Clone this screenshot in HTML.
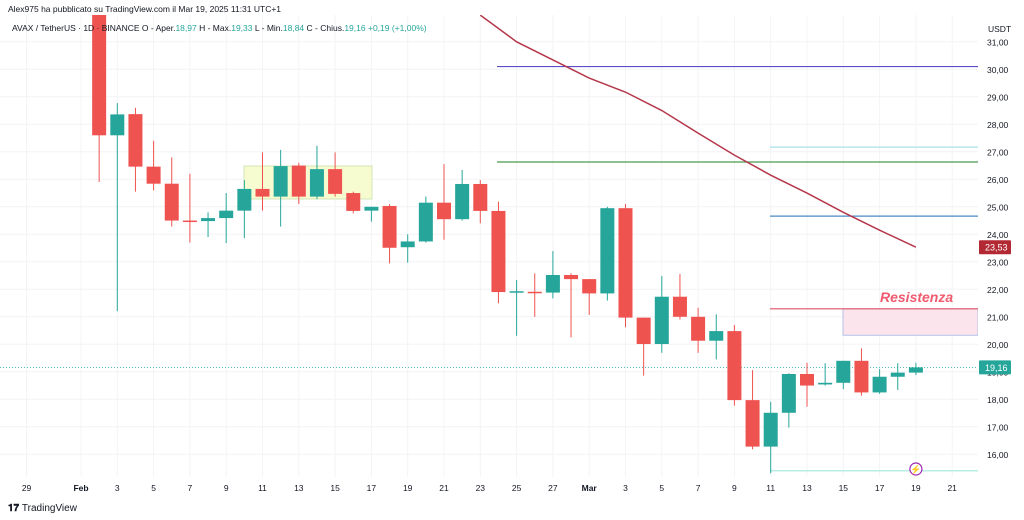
<!DOCTYPE html>
<html><head><meta charset="utf-8">
<style>
body{margin:0;background:#fff;width:1024px;height:520px;overflow:hidden;font-family:"Liberation Sans",sans-serif}
svg{position:absolute;left:0;top:0}
</style></head>
<body>
<svg id="c" width="1024" height="520" xmlns="http://www.w3.org/2000/svg">
<defs><clipPath id="pane"><rect x="0" y="15" width="978" height="462"/></clipPath></defs>
<g id="grid"></g>
<g id="annot" clip-path="url(#pane)"></g>
<g id="candles" clip-path="url(#pane)"></g>
<g id="ma" clip-path="url(#pane)"></g>
<g id="axes"></g>
<text x="8" y="12" font-size="8.5" fill="#131722">Alex975 ha pubblicato su TradingView.com il Mar 19, 2025 11:31 UTC+1</text>
<text x="12" y="31" font-size="8.5" fill="#131722">AVAX / TetherUS · 1D · BINANCE  O - Aper.<tspan fill="#26a69a">18,97</tspan>  H - Max.<tspan fill="#26a69a">19,33</tspan>  L - Min.<tspan fill="#26a69a">18,84</tspan>  C - Chius.<tspan fill="#26a69a">19,16</tspan>  <tspan fill="#26a69a">+0,19 (+1,00%)</tspan></text>
<text x="988" y="32" font-size="8.5" fill="#131722">USDT</text>
<text x="8" y="511" font-size="10" font-weight="bold" fill="#131722">𝟏𝟕 <tspan font-weight="normal">TradingView</tspan></text>
</svg>
<script>
const days=['Feb 2','Feb 3','Feb 4','Feb 5','Feb 6','Feb 7','Feb 8','Feb 9','Feb 10','Feb 11','Feb 12','Feb 13','Feb 14','Feb 15','Feb 16','Feb 17','Feb 18','Feb 19','Feb 20','Feb 21','Feb 22','Feb 23','Feb 24','Feb 25','Feb 26','Feb 27','Feb 28','Mar 1','Mar 2','Mar 3','Mar 4','Mar 5','Mar 6','Mar 7','Mar 8','Mar 9','Mar 10','Mar 11','Mar 12','Mar 13','Mar 14','Mar 15','Mar 16','Mar 17','Mar 18','Mar 19'];
const opens=[33.0,27.6,28.37,26.46,25.84,24.5,24.48,24.59,24.86,25.65,25.37,26.5,25.37,26.37,25.5,24.86,25.03,23.53,23.74,25.15,24.55,25.83,24.85,21.9,21.91,21.88,22.52,22.37,21.85,24.95,20.97,20.01,21.73,21.0,20.13,20.48,17.97,16.28,17.51,18.92,18.54,18.6,19.4,18.25,18.82,18.97];
const highs=[34.0,28.77,28.6,27.4,26.8,26.2,24.8,25.5,25.97,26.98,27.07,26.6,27.22,26.98,25.55,25.0,25.1,24.0,25.37,26.55,26.34,25.97,25.19,22.34,22.58,23.39,22.58,22.37,25.0,25.1,20.97,22.48,22.56,21.33,21.09,20.7,19.06,17.91,18.95,19.33,19.31,19.4,19.85,19.1,19.31,19.33];
const lows=[25.9,21.2,25.55,25.6,24.28,23.7,23.9,23.68,23.86,24.86,24.28,25.1,25.28,25.37,24.76,24.46,22.94,22.97,23.7,23.8,24.5,24.4,21.49,20.31,21.0,21.67,20.25,21.07,21.59,20.62,18.86,19.69,20.9,19.69,19.45,17.77,16.18,15.31,16.97,17.73,18.5,18.37,18.13,18.2,18.34,18.88];
const closes=[27.6,28.36,26.46,25.84,24.5,24.45,24.59,24.86,25.65,25.37,26.48,25.37,26.37,25.47,24.85,25.0,23.51,23.74,25.15,24.55,25.83,24.85,21.9,21.93,21.88,22.52,22.37,21.85,24.95,20.97,20.01,21.73,21.0,20.13,20.48,17.97,16.28,17.51,18.92,18.5,18.6,19.4,18.25,18.82,18.97,19.16];
const maIdx=[21,23,25,27,29,31,33,35,37,39,41,43,45];
const maVals=[31.97,31.0,30.34,29.68,29.17,28.5,27.68,26.88,26.15,25.5,24.8,24.15,23.53];
const priceTicks=[16,17,18,19,20,21,22,23,24,25,26,27,28,29,30,31];
const dateLabels=['29','Feb','3','5','7','9','11','13','15','17','19','21','23','25','27','Mar','3','5','7','9','11','13','15','17','19','21'];
const dateIdx=[-5,-2,0,2,4,6,8,10,12,14,16,18,20,22,24,26,28,30,32,34,36,38,40,42,44,46];
const levels=[30.1,26.63,27.17,24.66,21.29,15.4];
const NS='http://www.w3.org/2000/svg';
const y=p=>69.3+(30-p)*27.5;
const x=i=>117.3+18.15*(i-1);
function mk(t,a,par){const e=document.createElementNS(NS,t);for(const k in a)e.setAttribute(k,a[k]);document.getElementById(par).appendChild(e);return e;}
priceTicks.forEach(p=>{const l=mk('line',{x1:0,x2:978,y1:y(p),y2:y(p),stroke:'#f3f4f6'},'grid');


const t=mk('text',{x:987,y:y(p)+3.5,'font-size':8.5,fill:'#131722'},'axes');t.textContent=p.toFixed(2).replace('.',',');

});
dateIdx.forEach((d,k)=>{const xx=x(d+1);const l=mk('line',{x1:xx,x2:xx,y1:15,y2:477,stroke:'#f3f4f6'},'grid');


const lb=dateLabels[k];const t=mk('text',{x:xx,y:491,'font-size':8.5,'text-anchor':'middle',fill:'#131722','font-weight':(lb=='Feb'||lb=='Mar')?'bold':'normal'},'axes');t.textContent=lb;

});
let r=mk('rect',{x:244,y:166,width:128,height:33,fill:'#f7fbd0',stroke:'#c9e0a8','stroke-width':0.8},'annot');


r=mk('rect',{x:843,y:y(21.29),width:135,height:y(20.33)-y(21.29),fill:'#fce4ec',stroke:'#9fb5e8','stroke-width':0.8},'annot');


const lvCol=['#5b4fc8','#4c9a4c','#a8e0ea','#4a8ac4','#e0506a','#b8ece6'];
const lvX=[497,497,770,770,770,770];
levels.forEach((p,k)=>{const l=mk('line',{x1:lvX[k],x2:978,y1:y(p),y2:y(p),stroke:lvCol[k],'stroke-width':k==5?1.5:1.2},'annot');

});
let dl=mk('line',{x1:0,x2:978,y1:y(19.16),y2:y(19.16),stroke:'#26a69a','stroke-width':0.8,'stroke-dasharray':'1 2'},'annot');


let rt=mk('text',{x:880,y:302,'font-size':14,'font-weight':'bold','font-style':'italic',fill:'#f05a6e'},'annot');rt.textContent='Resistenza';


days.forEach((d,i)=>{const up=closes[i]>=opens[i];const c=up?'#26a69a':'#ef5350';const xx=x(i);
const w=mk('line',{x1:xx,x2:xx,y1:y(highs[i]),y2:y(lows[i]),stroke:c,'stroke-width':1},'candles');


const t=Math.min(y(opens[i]),y(closes[i]));const h=Math.max(1.5,Math.abs(y(opens[i])-y(closes[i])));
const b=mk('rect',{x:xx-7,y:t,width:14,height:h,fill:c},'candles');

});
const pts=maIdx.map((d,k)=>x(d)+','+y(maVals[k])).join(' ');
const pl=mk('polyline',{points:pts,fill:'none',stroke:'#b5374b','stroke-width':1.5},'ma');


function badge(p,col,nm){const yy=y(p);const b=mk('rect',{x:979,y:yy-7,width:32,height:14,fill:col,rx:1},'axes');


const t=mk('text',{x:985,y:yy+3.5,'font-size':9,fill:'#fff'},'axes');t.textContent=p.toFixed(2).replace('.',',');

}
badge(maVals[maVals.length-1],'#b22833','ma-price-badge');
badge(closes[closes.length-1],'#26a69a','last-price-badge');
const ci=mk('circle',{cx:x(45),cy:469,r:6,fill:'#fff',stroke:'#9c27b0','stroke-width':1.2},'axes');


const lt=mk('text',{x:x(45),y:472.5,'font-size':9,'text-anchor':'middle',fill:'#9c27b0'},'axes');lt.textContent='⚡';


</script>
</body></html>
